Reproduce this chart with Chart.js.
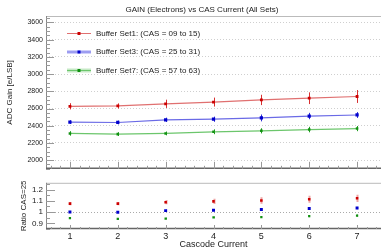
<!DOCTYPE html>
<html>
<head>
<meta charset="utf-8">
<script src="https://cdn.jsdelivr.net/npm/chart.js@4.4.1/dist/chart.umd.min.js"></script>
<style>
body { margin: 0; width: 384px; height: 248px; overflow: hidden; background: #fff; position: relative; }
#gainChart { position: absolute; left: 0; top: 0; }
#ratioChart { position: absolute; left: 0; top: 175px; }
</style>
</head>
<body>
<canvas id="gainChart" width="385" height="176"></canvas>
<canvas id="ratioChart" width="385" height="74"></canvas>
<script>
// cascode current steps (x axis)
var cascode = [1, 2, 3, 4, 5, 6, 7];
var xTicks = [1, 2, 3, 4, 5, 6, 7];
var gainTicks = [2000, 2200, 2400, 2600, 2800, 3000, 3200, 3400, 3600];
var ratioTicks = [0.9, 1, 1.1, 1.2];

var legendNames = ['Buffer Set1: (CAS = 09 to 15)', 'Buffer Set3: (CAS = 25 to 31)', 'Buffer Set7: (CAS = 57 to 63)'];

// gain [e/LSB] with errors
var set1Gain = [2626, 2630, 2655, 2675, 2700, 2720, 2740];
var set1Err = [36, 30, 48, 52, 60, 68, 75];
var set3Gain = [2443, 2438, 2469, 2476, 2491, 2513, 2525];
var set3Err = [22, 22, 25, 30, 40, 37, 34];
var set7Gain = [2311, 2303, 2311, 2330, 2341, 2356, 2367];
var set7Err = [26, 22, 22, 28, 30, 32, 30];

// ratio to CAS=25
var set1Ratio = [1.075, 1.075, 1.088, 1.095, 1.103, 1.114, 1.122];
var set1RatioErr = [0.015, 0.015, 0.019, 0.023, 0.028, 0.030, 0.033];
var set3Ratio = [1.000, 0.999, 1.013, 1.016, 1.023, 1.031, 1.036];
var set3RatioErr = [0.008, 0.008, 0.009, 0.009, 0.010, 0.010, 0.010];
var set7Ratio = [0.946, 0.940, 0.943, 0.953, 0.956, 0.964, 0.969];
var set7RatioErr = [0.007, 0.007, 0.007, 0.008, 0.008, 0.009, 0.009];

Chart.defaults.font.family = "'Liberation Sans', Arial, sans-serif";
Chart.defaults.color = '#333';

function pts(ys) {
	return cascode.map(function (x, i) { return { x: x, y: ys[i] }; });
}

function fixTicks(list) {
	return function (scale) {
		scale.ticks = list.map(function (v) { return { value: v }; });
	};
}

// vertical error bars
var errorPlugin = {
	id: 'errorBars',
	beforeDatasetsDraw: function (chart) {
		var ctx = chart.ctx, ys = chart.scales.y, a = chart.chartArea;
		ctx.save();
		ctx.beginPath();
		ctx.rect(a.left, a.top, a.right - a.left, a.bottom - a.top);
		ctx.clip();
		chart.data.datasets.forEach(function (ds, i) {
			if (!ds.errors) return;
			var meta = chart.getDatasetMeta(i);
			ctx.strokeStyle = ds.errorColor;
			ctx.lineWidth = ds.errorWidth || 1;
			meta.data.forEach(function (p, j) {
				var v = ds.data[j].y, e = ds.errors[j];
				ctx.beginPath();
				ctx.moveTo(Math.round(p.x) + 0.5, ys.getPixelForValue(v + e));
				ctx.lineTo(Math.round(p.x) + 0.5, ys.getPixelForValue(v - e));
				ctx.stroke();
			});
		});
		ctx.restore();
	}
};

// ROOT style frame with inside ticks
var framePlugin = {
	id: 'frame',
	afterDraw: function (chart, args, o) {
		var ctx = chart.ctx, a = chart.chartArea, xs = chart.scales.x, ys = chart.scales.y;
		ctx.save();
		ctx.lineWidth = 1;
		ctx.strokeStyle = '#bbb';
		ctx.beginPath();
		ctx.moveTo(a.left, a.top + 0.5); ctx.lineTo(a.right, a.top + 0.5);
		ctx.stroke();
		ctx.strokeStyle = '#888';
		ctx.beginPath();
		ctx.moveTo(a.left + 0.5, a.top); ctx.lineTo(a.left + 0.5, a.bottom);
		ctx.stroke();
		ctx.strokeStyle = '#666';
		ctx.lineWidth = 1.5;
		ctx.beginPath();
		ctx.moveTo(a.left, a.bottom - 0.5); ctx.lineTo(a.right, a.bottom - 0.5);
		ctx.stroke();
		ctx.lineWidth = 1;
		ctx.strokeStyle = '#999';
		var i, v, px, major;
		for (i = Math.ceil(ys.min / o.yMinor); i * o.yMinor <= ys.max; i++) {
			v = i * o.yMinor;
			major = o.yMajor.some(function (t) { return Math.abs(t - v) < 1e-6; });
			px = Math.round(ys.getPixelForValue(v)) + 0.5;
			ctx.beginPath();
			ctx.moveTo(a.left, px);
			ctx.lineTo(a.left + (major ? o.yMajorLen : o.yMinorLen), px);
			ctx.stroke();
		}
		for (i = Math.ceil(xs.min / o.xMinor); i * o.xMinor <= xs.max + 1e-6; i++) {
			v = i * o.xMinor;
			major = Math.abs(v - Math.round(v)) < 1e-6;
			px = Math.round(xs.getPixelForValue(v)) + 0.5;
			ctx.beginPath();
			ctx.moveTo(px, a.bottom);
			ctx.lineTo(px, a.bottom - (major ? o.xMajorLen : o.xMinorLen));
			ctx.stroke();
		}
		ctx.restore();
	}
};

// title and legend box of the gain panel
var decorPlugin = {
	id: 'decor',
	afterDraw: function (chart) {
		var ctx = chart.ctx;
		ctx.save();
		ctx.fillStyle = '#222';
		ctx.font = "8px 'Liberation Sans', Arial, sans-serif";
		ctx.textAlign = 'center';
		ctx.textBaseline = 'middle';
		ctx.fillText('GAIN (Electrons) vs CAS Current (All Sets)', 202, 10);
		var rows = [33.5, 52, 70.5];
		chart.data.datasets.forEach(function (ds, i) {
			var y = rows[i];
			if (ds.bandColor) {
				ctx.strokeStyle = ds.bandColor;
				ctx.lineWidth = 4;
				ctx.beginPath(); ctx.moveTo(67, y); ctx.lineTo(91, y); ctx.stroke();
			}
			ctx.strokeStyle = ds.borderColor;
			ctx.lineWidth = 1;
			ctx.beginPath(); ctx.moveTo(67, y); ctx.lineTo(91, y); ctx.stroke();
			ctx.fillStyle = ds.pointBackgroundColor;
			ctx.fillRect(77.5, y - 1.5, 3, 3);
			ctx.fillStyle = '#222';
			ctx.textAlign = 'left';
			ctx.fillText(legendNames[i], 96, y);
		});
		ctx.restore();
	}
};

var gainChart = new Chart(document.getElementById('gainChart'), {
	type: 'line',
	data: {
		datasets: [{
			label: legendNames[0],
			data: pts(set1Gain),
			errors: set1Err,
			errorColor: '#d83030',
			borderColor: '#e07070',
			borderWidth: 1.2,
			pointStyle: 'rect',
			pointRadius: 2,
			pointBorderWidth: 0,
			pointBackgroundColor: '#cc0000'
		}, {
			label: legendNames[1],
			data: pts(set3Gain),
			errors: set3Err,
			errorColor: '#3030d8',
			borderColor: '#6a6ae6',
			bandColor: 'rgba(120,120,240,0.35)',
			borderWidth: 1.2,
			pointStyle: 'rect',
			pointRadius: 2.3,
			pointBorderWidth: 0,
			pointBackgroundColor: '#0000cc'
		}, {
			label: legendNames[2],
			data: pts(set7Gain),
			errors: set7Err,
			errorColor: '#20a020',
			borderColor: '#6cc66c',
			bandColor: 'rgba(110,200,110,0.4)',
			borderWidth: 1.2,
			pointStyle: 'rect',
			pointRadius: 1.8,
			pointBorderWidth: 0,
			pointBackgroundColor: '#109010'
		}]
	},
	options: {
		responsive: false,
		animation: false,
		layout: { padding: { top: 16, bottom: 2, left: 0, right: 0 } },
		plugins: {
			legend: { display: false },
			tooltip: { enabled: false },
			frame: { yMajor: gainTicks, yMinor: 50, yMajorLen: 8, yMinorLen: 4, xMinor: 0.2, xMajorLen: 7, xMinorLen: 3 }
		},
		scales: {
			x: { type: 'linear', min: 0.5, max: 7.5, display: false },
			y: {
				min: 1900,
				max: 3675,
				afterBuildTicks: fixTicks(gainTicks),
				afterFit: function (s) { s.width = 46; },
				ticks: { font: { size: 7 }, color: '#222', padding: 3, callback: function (v) { return String(v); } },
				grid: { color: '#cfcfcf', drawTicks: false },
				border: { display: false, dash: [1, 2] },
				title: { display: true, text: 'ADC Gain [e/LSB]', font: { size: 8 }, color: '#222', padding: { top: 5, bottom: 0 } }
			}
		}
	},
	plugins: [errorPlugin, framePlugin, decorPlugin]
});

var ratioChart = new Chart(document.getElementById('ratioChart'), {
	type: 'line',
	data: {
		datasets: [{
			data: pts(set1Ratio),
			errors: set1RatioErr,
			errorColor: 'rgba(225,90,90,0.55)',
			errorWidth: 2,
			showLine: false,
			pointStyle: 'rect',
			pointRadius: 1.8,
			pointBorderWidth: 0,
			pointBackgroundColor: '#cc0000'
		}, {
			data: pts(set3Ratio),
			errors: set3RatioErr,
			errorColor: '#5050e0',
			showLine: false,
			pointStyle: 'rect',
			pointRadius: 2.1,
			pointBorderWidth: 0,
			pointBackgroundColor: '#0000cc'
		}, {
			data: pts(set7Ratio),
			errors: set7RatioErr,
			errorColor: '#50b050',
			showLine: false,
			pointStyle: 'rect',
			pointRadius: 1.6,
			pointBorderWidth: 0,
			pointBackgroundColor: '#109010'
		}]
	},
	options: {
		responsive: false,
		animation: false,
		layout: { padding: { top: 2, left: 0, right: 0, bottom: 0 } },
		plugins: {
			legend: { display: false },
			tooltip: { enabled: false },
			frame: { yMajor: ratioTicks, yMinor: 0.05, yMajorLen: 9, yMinorLen: 4, xMinor: 0.2, xMajorLen: 4, xMinorLen: 2 }
		},
		scales: {
			x: {
				type: 'linear',
				min: 0.5,
				max: 7.5,
				afterBuildTicks: fixTicks(xTicks),
				afterFit: function (s) { s.height = 20; },
				ticks: { font: { size: 9 }, color: '#222', padding: 2, callback: function (v) { return String(v); } },
				grid: { display: false, drawTicks: false },
				border: { display: false },
				title: { display: true, text: 'Cascode Current', font: { size: 9 }, color: '#222', padding: { top: 0, bottom: -1 } }
			},
			y: {
				min: 0.85,
				max: 1.26,
				afterBuildTicks: fixTicks(ratioTicks),
				afterFit: function (s) { s.width = 46; },
				ticks: { font: { size: 8 }, color: '#222', padding: 3, callback: function (v) { return String(v); } },
				grid: {
					drawTicks: false,
					color: function (c) { return c.tick && c.tick.value === 1 ? '#aaa' : 'rgba(0,0,0,0)'; }
				},
				border: { display: false, dash: [1, 2] },
				title: { display: true, text: 'Ratio CAS=25', font: { size: 8 }, color: '#222', padding: { top: 19, bottom: 0 } }
			}
		}
	},
	plugins: [errorPlugin, framePlugin]
});
</script>
</body>
</html>
